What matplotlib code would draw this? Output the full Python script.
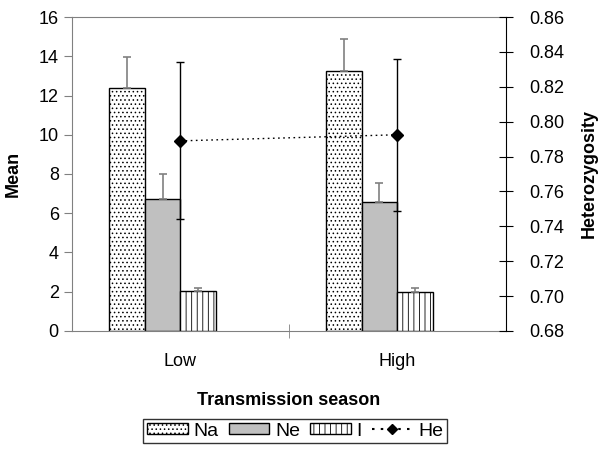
import numpy as np
import matplotlib
matplotlib.use('Agg')
import matplotlib.pyplot as plt
from matplotlib.lines import Line2D
from matplotlib.patches import Patch

plt.rcParams['font.family'] = ['Liberation Sans', 'DejaVu Sans']
plt.rcParams['hatch.linewidth'] = 0.6

# data
seasons = ['Low', 'High']
na_mean = [12.4, 13.25]
na_err = [1.55, 1.65]
ne_mean = [6.75, 6.55]
ne_err = [1.25, 1.0]
i_mean = [2.03, 2.0]
i_err = [0.17, 0.2]
he_mean = [0.789, 0.7925]
he_err = [0.045, 0.0435]

x = np.arange(len(seasons))
w = 0.165

fig = plt.figure(figsize=(6, 4.49), dpi=100)
ax = fig.add_axes([0.12, 0.263, 0.723, 0.699])

ekw = dict(ecolor='#808080', elinewidth=1.2, capsize=3, capthick=1.2)
ax.bar(x - 1.5 * w, na_mean, w, align='center', facecolor='white', edgecolor='black',
       hatch='....', linewidth=1)
ax.errorbar(x - 1.5 * w, na_mean, yerr=[[0, 0], na_err], fmt='none', **ekw)
ax.bar(x - 0.5 * w, ne_mean, w, facecolor='#c0c0c0', edgecolor='black', linewidth=1)
ax.errorbar(x - 0.5 * w, ne_mean, yerr=[[0, 0], ne_err], fmt='none', **ekw)
ax.bar(x + 0.5 * w, i_mean, w, facecolor='white', edgecolor='black', hatch='|||', linewidth=1)
ax.errorbar(x + 0.5 * w, i_mean, yerr=[[0, 0], i_err], fmt='none', **ekw)

ax.set_xlim(-0.5, 1.5)
ax.set_ylim(0, 16)
ax.set_yticks(np.arange(0, 17, 2))
ax.set_xticks(x)
ax.set_xticklabels(seasons)
ax.set_xticks([0.5], minor=True)
ax.tick_params(axis='x', which='major', length=0, labelsize=13, pad=16)
ax.tick_params(axis='x', which='minor', length=10, direction='inout', color='#808080')
ax.tick_params(axis='y', labelsize=13, direction='out', length=6, color='#808080')
for s in ['left', 'bottom', 'top']:
    ax.spines[s].set_color('#808080')
ax.spines['right'].set_visible(False)
ax.set_ylabel('Mean', fontsize=13, fontweight='bold', labelpad=12)
ax.set_xlabel('Transmission season', fontsize=13, fontweight='bold', labelpad=16)

ax2 = ax.twinx()
ax2.errorbar(x, he_mean, yerr=he_err, fmt='D', color='black', markersize=6,
             ecolor='black', elinewidth=1, capsize=3, capthick=1)
ax2.plot(x, he_mean, ls=(0, (1.2, 2.5)), color='black', lw=1)
ax2.set_ylim(0.68, 0.86)
ax2.set_yticks(np.round(np.arange(0.68, 0.861, 0.02), 2))
ax2.set_yticklabels(['%.2f' % v for v in np.arange(0.68, 0.861, 0.02)])
ax2.tick_params(axis='y', labelsize=13, direction='inout', length=10, pad=12)
for s in ['left', 'bottom', 'top']:
    ax2.spines[s].set_visible(False)
ax2.set_ylabel('Heterozygosity', fontsize=13, fontweight='bold', labelpad=12)

handles = [Patch(facecolor='white', edgecolor='black', hatch='....', label='Na'),
           Patch(facecolor='#c0c0c0', edgecolor='black', label='Ne'),
           Patch(facecolor='white', edgecolor='black', hatch='|||', label='I'),
           Line2D([], [], color='black', ls=(0, (1.2, 3)), marker='D', markersize=5, label='He')]
leg = fig.legend(handles=handles, loc='center', bbox_to_anchor=(0.492, 0.04), ncol=4,
                 fontsize=14, frameon=True, fancybox=False, handlelength=2.1,
                 handleheight=0.5, handletextpad=0.3, columnspacing=0.5, borderpad=0.2)
leg.get_frame().set_edgecolor('black')
leg.get_frame().set_linewidth(1)

fig.savefig('out.png', dpi=100)
